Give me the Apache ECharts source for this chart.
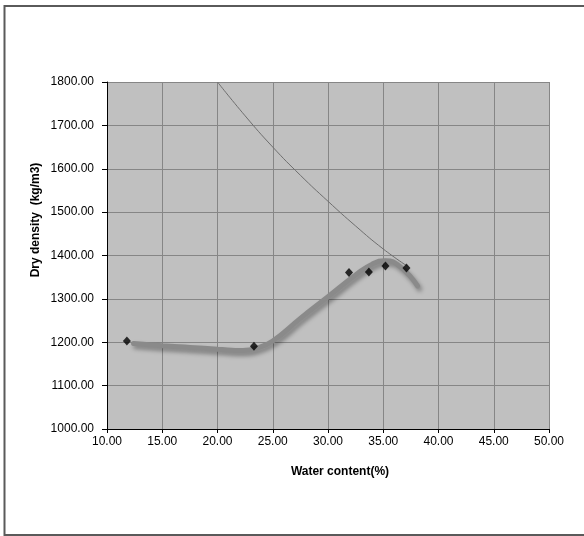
<!DOCTYPE html>
<html>
<head>
<meta charset="utf-8">
<script src="https://cdn.jsdelivr.net/npm/echarts@6/dist/echarts.min.js"></script>
<style>
  html, body { margin: 0; padding: 0; background: #fff; }
  #chart { width: 584px; height: 536px; }
</style>
</head>
<body>
<div id="chart"></div>
<script>
// measured points (water content %, dry density kg/m3)
var measured = [[11.8, 1203], [23.3, 1191], [31.9, 1361], [33.7, 1362], [35.2, 1376], [37.1, 1371]];
// fitted compaction curve
var fitCurve = [[12.4, 1197], [15, 1192], [17.5, 1188], [20, 1184], [22.3, 1181], [23.5, 1186],
  [25, 1203], [27.5, 1255], [30, 1305], [32.5, 1355], [34, 1380], [35.2, 1388], [36.5, 1375], [38.1, 1330]];
// zero air voids line
var zavLine = [[20, 1800], [22.5, 1722], [25, 1650], [27.5, 1585], [30, 1525], [32.5, 1468], [35, 1415], [37.2, 1375]];

var xTicks = { min: 10, max: 50, step: 5 };
var yTicks = { min: 1000, max: 1800, step: 100 };

var myChart = echarts.init(document.getElementById('chart'));
var labelFont = { color: '#000', fontFamily: 'Liberation Sans, Arial', fontSize: 12 };

var option = {
  animation: false,
  grid: {
    left: 107, right: 35, top: 82, bottom: 107,
    show: true,
    backgroundColor: '#c0c0c0',
    borderWidth: 0
  },
  xAxis: {
    type: 'value',
    min: xTicks.min, max: xTicks.max, interval: xTicks.step,
    name: 'Water content(%)',
    nameLocation: 'middle',
    nameGap: 37,
    nameTextStyle: {
      color: '#000', fontFamily: 'Liberation Sans, Arial', fontSize: 12, fontWeight: 'bold',
      padding: [0, 0, 0, 24]
    },
    axisLine: { onZero: false, lineStyle: { color: '#000', width: 1 } },
    axisTick: { show: true, length: 4, inside: false, lineStyle: { color: '#000' } },
    axisLabel: Object.assign({ margin: 7, formatter: function (v) { return v.toFixed(2); } }, labelFont),
    splitLine: { show: true, lineStyle: { color: '#868686', width: 1 } }
  },
  yAxis: {
    type: 'value',
    min: yTicks.min, max: yTicks.max, interval: yTicks.step,
    axisLine: { onZero: false, lineStyle: { color: '#000', width: 1 } },
    axisTick: { show: true, length: 5, inside: false, lineStyle: { color: '#000' } },
    axisLabel: Object.assign({ margin: 13, formatter: function (v) { return v.toFixed(2); } }, labelFont),
    splitLine: { show: true, lineStyle: { color: '#868686', width: 1 } }
  },
  graphic: [
    {
      type: 'polyline',
      shape: { points: [[584, 6], [4.5, 6], [4.5, 535], [584, 535]] },
      style: { stroke: '#5a5a5a', lineWidth: 2, fill: null },
      silent: true
    },
    {
      // y axis title sits above the plot's middle, as in the original sheet
      type: 'text',
      x: 36, y: 220,
      rotation: Math.PI / 2,
      style: {
        text: 'Dry density  (kg/m3)',
        fill: '#000',
        font: 'bold 12px "Liberation Sans", Arial',
        align: 'center',
        verticalAlign: 'middle'
      },
      silent: true
    }
  ],
  series: [
    {
      name: 'zav',
      type: 'line',
      data: zavLine,
      smooth: true,
      symbol: 'none',
      lineStyle: { color: '#6e6e6e', width: 1 },
      z: 2
    },
    {
      name: 'fit',
      type: 'line',
      data: fitCurve,
      smooth: 0.5,
      symbol: 'none',
      lineStyle: {
        color: '#8a8a8a', width: 5, cap: 'round',
        shadowColor: 'rgba(0,0,0,0.35)', shadowBlur: 4, shadowOffsetX: 2, shadowOffsetY: 3
      },
      z: 3
    },
    {
      name: 'measured',
      type: 'scatter',
      data: measured,
      symbol: 'diamond',
      symbolSize: [8, 9],
      itemStyle: { color: '#000' },
      z: 4
    }
  ]
};
myChart.setOption(option);
window.onresize = myChart.resize;
</script>
</body>
</html>
